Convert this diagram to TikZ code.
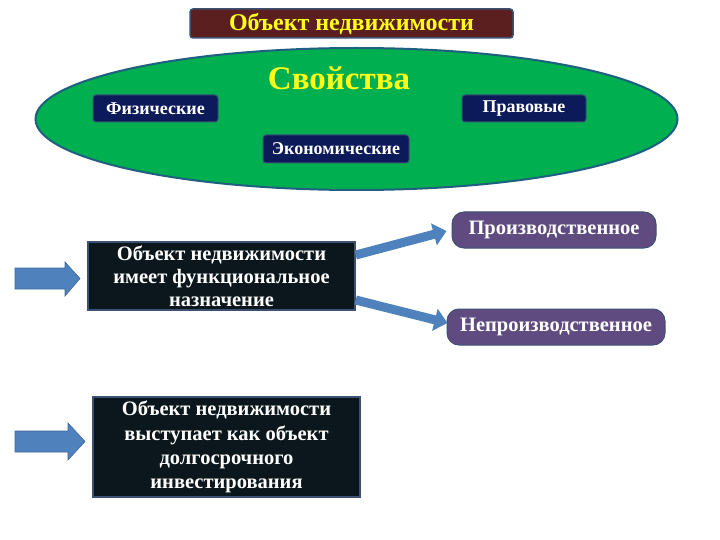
\documentclass[tikz,border=0pt]{standalone}
\usepackage{fontspec}
\setmainfont{Liberation Serif}
\usetikzlibrary{arrows.meta,shapes.geometric}
\definecolor{maroon}{HTML}{5C1F1F}
\definecolor{frameblue}{HTML}{3D5273}
\definecolor{ellgreen}{HTML}{00B050}
\definecolor{ellborder}{HTML}{1F5F7F}
\definecolor{navy}{HTML}{0C1A5A}
\definecolor{darkbox}{HTML}{0B171C}
\definecolor{arrblue}{HTML}{4F81BD}
\definecolor{purp}{HTML}{5F4B7F}
\definecolor{yel}{HTML}{FFFF1A}
\tikzset{
  titlebox/.style={draw=frameblue, line width=1.5pt, fill=maroon, rounded corners=3pt, text=yel, font=\bfseries\fontsize{24}{26}\selectfont, minimum width=323pt, minimum height=29pt, inner sep=0pt},
  propbox/.style={draw=frameblue, line width=1pt, fill=navy, rounded corners=3pt, text=white, font=\bfseries\fontsize{18}{20}\selectfont, minimum height=27pt, inner sep=0pt},
  blackbox/.style={draw=frameblue, line width=1.5pt, fill=darkbox, text=white, align=center, font=\bfseries\fontsize{20.5}{23}\selectfont, inner sep=0pt},
  resbox/.style={draw=frameblue, line width=1pt, fill=purp, rounded corners=12pt, text=white, font=\bfseries\fontsize{20.5}{22}\selectfont, minimum height=36pt, inner sep=0pt},
  bigarrow/.style={draw=arrblue!80!black, line width=0.6pt, fill=arrblue},
  diagarrow/.style={arrblue, line width=9pt, -{Triangle[length=13pt,width=22pt]}},
}
\begin{document}
\begin{tikzpicture}[x=1pt,y=-1pt]
\useasboundingbox (0,0) rectangle (720,540);
% title
\node[titlebox] (title) at (351.5,23.5) {Объект недвижимости};
% ellipse
\node[ellipse, draw=ellborder, line width=2pt, fill=ellgreen, minimum width=642pt, minimum height=142pt, inner sep=0pt] (ell) at (356.5,119) {};
\node[text=yel, font=\bfseries\fontsize{33}{35}\selectfont] (svo) at (339,78) {Свойства};
\node[propbox, minimum width=125pt] (fiz) at (155.5,108.5) {Физические};
\node[propbox, minimum width=124pt] (prav) at (524,108.5) {Правовые};
\node[propbox, minimum width=146pt, minimum height=28pt] (econ) at (336,149) {Экономические};
% box 1
\node[blackbox, minimum width=267pt, minimum height=68pt] (b1) at (221.5,276) {Объект недвижимости\\имеет функциональное\\назначение};
\node[resbox, minimum width=204pt] (proiz) at (554,230) {Производственное};
\node[resbox, minimum width=218pt] (neproiz) at (556,327) {Непроизводственное};
% box 2
\node[blackbox, minimum width=267pt, minimum height=100pt, font=\bfseries\fontsize{20.5}{24.3}\selectfont] (b2) at (226.5,447) {Объект недвижимости\\выступает как объект\\долгосрочного\\инвестирования};
% left arrows
\coordinate (a1s) at (15,278.5);
\coordinate (a2s) at (15,441.5);
\draw[bigarrow] (a1s) ++(0,-10.5) -- ++(50,0) -- ++(0,-6) -- (80,278.5) -- (65,296) -- ++(0,-7) -- ++(-50,0) -- cycle;
\draw[bigarrow] (a2s) ++(0,-10.5) -- ++(53,0) -- ++(0,-8) -- (85,441.5) -- (68,460) -- ++(0,-8) -- ++(-53,0) -- cycle;
% diagonal arrows
\draw[diagarrow] ([yshift=21pt]b1.east) -- ([xshift=-5pt,yshift=-1pt]proiz.west);
\draw[diagarrow] ([yshift=-24pt]b1.east) -- ([xshift=1pt,yshift=4pt]neproiz.west);
\end{tikzpicture}
\end{document}
